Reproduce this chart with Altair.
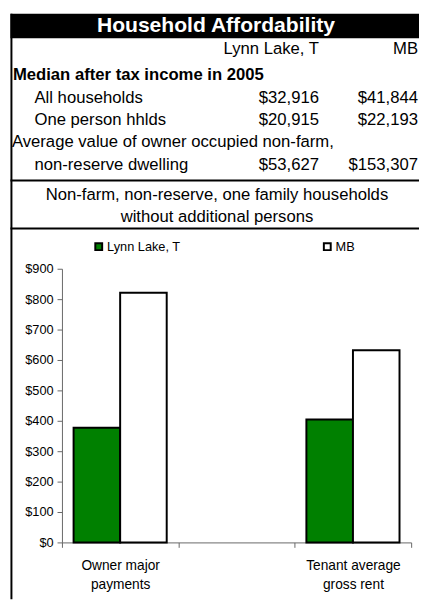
import altair as alt
import pandas as pd

FONT = "Liberation Sans, Arial, Helvetica, sans-serif"

# ---------------- data ----------------
title = "Household Affordability"
places = ["Lynn Lake, T", "MB"]
section_income = "Median after tax income in 2005"
income_labels = ["All households", "One person hhlds"]
income_lynn = [32916, 20915]
income_mb = [41844, 22193]
dwelling_lines = ["Average value of owner occupied non-farm,", "non-reserve dwelling"]
dwelling_values = [53627, 153307]
subtitle_lines = ["Non-farm, non-reserve, one family households", "without additional persons"]

categories = ["Owner major payments", "Tenant average gross rent"]
category_lines = [["Owner major", "payments"], ["Tenant average", "gross rent"]]
lynn_costs = [377, 404]
mb_costs = [821, 632]
y_ticks = [0, 100, 200, 300, 400, 500, 600, 700, 800, 900]
bar_colors = ["#008000", "#ffffff"]

# ---------------- tables ----------------
row_ids = ["median", "all", "one", "avg", "dwell"]
row_scale = alt.Scale(type="point", domain=row_ids, range=[63, 154], padding=0)

one = pd.DataFrame({"k": [0]})

bold_df = pd.DataFrame({"row": ["median"], "text": [section_income]})
left0_df = pd.DataFrame({"row": ["avg"], "text": [dwelling_lines[0]]})
left1_df = pd.DataFrame({"row": ["all", "one", "dwell"],
                         "text": [income_labels[0], income_labels[1], dwelling_lines[1]]})


def fmt(v):
    return "${:,}".format(v)


col1_df = pd.DataFrame({"row": ["all", "one", "dwell"],
                        "text": [fmt(income_lynn[0]), fmt(income_lynn[1]), fmt(dwelling_values[0])]})
col2_df = pd.DataFrame({"row": ["all", "one", "dwell"],
                        "text": [fmt(income_mb[0]), fmt(income_mb[1]), fmt(dwelling_values[1])]})
head1_df = pd.DataFrame({"text": [places[0]]})
head2_df = pd.DataFrame({"text": [places[1]]})
sub_df = pd.DataFrame({"row": ["s1", "s2"], "text": subtitle_lines})
title_df = pd.DataFrame({"text": [title]})

TXT = dict(font=FONT, fontSize=17, color="black", baseline="middle")

band = alt.Chart(one).mark_rect(color="black").encode(
    x=alt.value(2.5), x2=alt.value(419), y=alt.value(0), y2=alt.value(25))
title_txt = alt.Chart(title_df).mark_text(font=FONT, fontSize=21.5, fontWeight="bold",
                                          color="white", baseline="middle", align="center").encode(
    text="text:N", x=alt.value(212), y=alt.value(12.5))

head1_txt = alt.Chart(head1_df).mark_text(align="right", **TXT).encode(
    text="text:N", x=alt.value(317), y=alt.value(36))
head2_txt = alt.Chart(head2_df).mark_text(align="right", **TXT).encode(
    text="text:N", x=alt.value(418), y=alt.value(36))

bold_txt = alt.Chart(bold_df).mark_text(align="left", fontWeight="bold", **TXT).encode(
    text="text:N", x=alt.value(5), y=alt.Y("row:N", scale=row_scale, axis=None))
left0_txt = alt.Chart(left0_df).mark_text(align="left", **TXT).encode(
    text="text:N", x=alt.value(4), y=alt.Y("row:N", scale=row_scale, axis=None))
left1_txt = alt.Chart(left1_df).mark_text(align="left", **TXT).encode(
    text="text:N", x=alt.value(27), y=alt.Y("row:N", scale=row_scale, axis=None))
col1_txt = alt.Chart(col1_df).mark_text(align="right", **TXT).encode(
    text="text:N", x=alt.value(317), y=alt.Y("row:N", scale=row_scale, axis=None))
col2_txt = alt.Chart(col2_df).mark_text(align="right", **TXT).encode(
    text="text:N", x=alt.value(418), y=alt.Y("row:N", scale=row_scale, axis=None))
sub_txt = alt.Chart(sub_df).mark_text(align="center", **TXT).encode(
    text="text:N", x=alt.value(213),
    y=alt.Y("row:N", scale=alt.Scale(type="point", domain=["s1", "s2"], range=[185, 207], padding=0), axis=None))

line1 = alt.Chart(one).mark_rule(color="black", strokeWidth=2).encode(
    x=alt.value(2.5), x2=alt.value(419), y=alt.value(170))
line2 = alt.Chart(one).mark_rule(color="black", strokeWidth=2).encode(
    x=alt.value(2.5), x2=alt.value(419), y=alt.value(219))
border = alt.Chart(one).mark_rule(color="black", strokeWidth=2).encode(
    x=alt.value(3.5), y=alt.value(0), y2=alt.value(597))

# ---------------- bars ----------------
bar_df = pd.DataFrame({
    "category": categories + categories,
    "place": [places[0]] * 2 + [places[1]] * 2,
    "value": lynn_costs + mb_costs,
})
x_domain = [categories[0], "gap", categories[1]]
label_expr = " : ".join(
    "datum.value == '{}' ? [{}]".format(c, ", ".join("'{}'".format(s) for s in lines))
    for c, lines in zip(categories, category_lines)
) + " : ''"

bars = alt.Chart(bar_df).mark_bar(stroke="black", strokeWidth=2).encode(
    x=alt.X("category:N",
            scale=alt.Scale(domain=x_domain, range=[55, 411], paddingInner=0, paddingOuter=0),
            axis=alt.Axis(title=None, labelExpr=label_expr, labelAngle=0, labelFont=FONT,
                          labelFontSize=14, labelColor="black", labelLineHeight=19,
                          labelPadding=12, tickBand="extent", tickSize=5,
                          domainColor="#666666", tickColor="#666666", grid=False,
                          offset=-60)),
    xOffset=alt.XOffset("place:N", scale=alt.Scale(domain=places, paddingInner=0, paddingOuter=0.25)),
    y=alt.Y("value:Q",
            scale=alt.Scale(domain=[0, 900], range=[539, 260], nice=False),
            axis=alt.Axis(title=None, values=y_ticks, format="$,.0f", labelFont=FONT,
                          labelFontSize=13, labelColor="black", tickSize=5, labelPadding=4,
                          domainColor="#666666", tickColor="#666666", grid=False,
                          offset=-55)),
    color=alt.Color("place:N", scale=alt.Scale(domain=places, range=bar_colors),
                    legend=alt.Legend(title=None, orient="none", legendX=86, legendY=231,
                                      direction="horizontal", symbolType="square",
                                      symbolSize=49, symbolStrokeColor="black",
                                      symbolStrokeWidth=2, labelFont=FONT,
                                      labelFontSize=13, labelColor="black", labelOffset=2,
                                      columnPadding=142, padding=0)),
)

chart = alt.layer(
    band, title_txt, head1_txt, head2_txt, bold_txt, left0_txt, left1_txt, col1_txt, col2_txt,
    line1, sub_txt, line2, bars, border
).resolve_scale(x="independent", y="independent").properties(
    width=419, height=599, autosize=alt.AutoSizeParams(type="none"), padding=0
).configure_view(strokeWidth=0)

chart.save("out.html", embed_options={"renderer": "svg", "actions": False})
